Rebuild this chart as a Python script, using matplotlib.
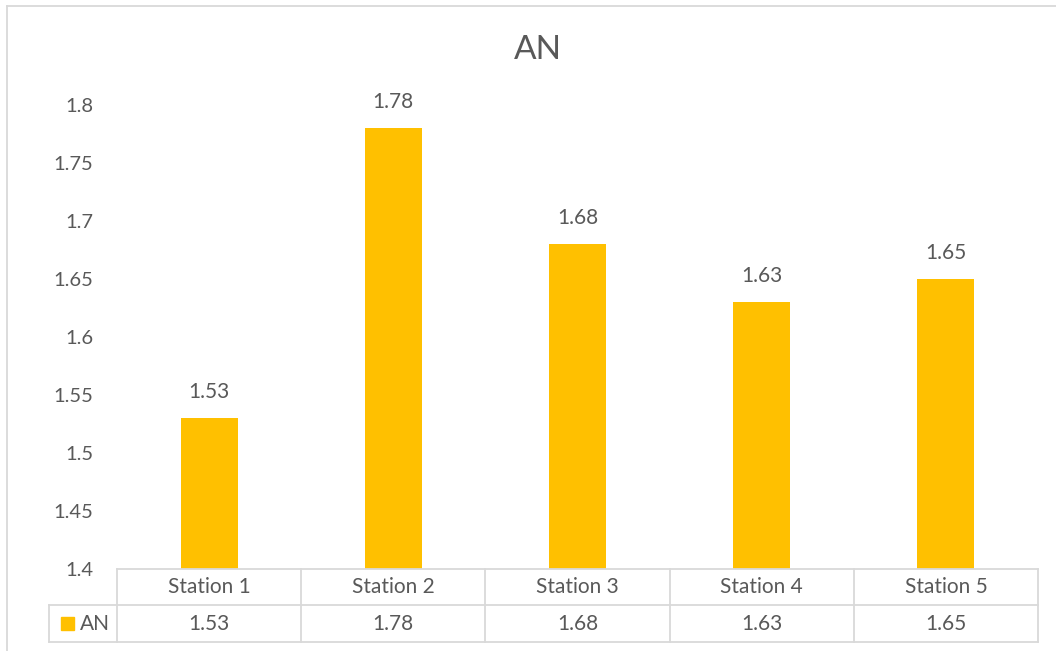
import matplotlib
matplotlib.use("Agg")
import matplotlib.pyplot as plt
from matplotlib.lines import Line2D
from matplotlib.patches import Rectangle
import numpy as np

stations = ["Station 1", "Station 2", "Station 3", "Station 4", "Station 5"]
an_values = [1.53, 1.78, 1.68, 1.63, 1.65]
series_name = "AN"
y_ticks = [1.4, 1.45, 1.5, 1.55, 1.6, 1.65, 1.7, 1.75, 1.8]

W, H = 1056, 651
BAR = "#FFC000"
TXT = "#595959"
GRID = "#D9D9D9"
FONT = ["Lato", "Open Sans", "DejaVu Sans"]
FS = 15

plt.rcParams["font.family"] = FONT

fig = plt.figure(figsize=(W / 100, H / 100), dpi=100)


def fx(px):
    return px / W


def fy(py):
    return 1 - py / H


# plot area in pixel coordinates
left, right, top, bottom = 117, 1038, 105, 569
ax = fig.add_axes([fx(left), fy(bottom), fx(right - left), fy(top) - fy(bottom)])

x = np.arange(len(stations))
ax.bar(x, an_values, width=0.31, color=BAR, bottom=0)
ax.set_xlim(-0.5, len(stations) - 0.5)
ax.set_ylim(y_ticks[0], y_ticks[-1])
ax.set_yticks(y_ticks)
ax.set_yticklabels([f"{t:g}" for t in y_ticks])
ax.tick_params(axis="y", length=0, pad=17, labelsize=14.5, labelcolor=TXT)
ax.set_xticks([])
for s in ax.spines.values():
    s.set_visible(False)

for xi, v in zip(x, an_values):
    ax.annotate(f"{v:.2f}", (xi, v), xytext=(0, 19), textcoords="offset points",
                ha="center", va="center", fontsize=FS, color=TXT)

fig.text(fx((left + right) / 2 - 40), fy(50), series_name, ha="center", va="center",
         fontsize=24, color=TXT)

# data table below the plot area
row1_top, row1_bot, row2_bot = 569, 605, 642
legend_left = 49


def hline(y, x0, x1):
    fig.add_artist(Line2D([fx(x0), fx(x1)], [fy(y), fy(y)], color=GRID, lw=1.3))


def vline(xp, y0, y1):
    fig.add_artist(Line2D([fx(xp), fx(xp)], [fy(y0), fy(y1)], color=GRID, lw=1.3))


# column edges from the category positions
fig.canvas.draw()
to_px = lambda xd: ax.transData.transform((xd, y_ticks[0]))[0]
edges = [to_px(i - 0.5) for i in range(len(stations) + 1)]
centers = [to_px(i) for i in x]

hline(row1_top, edges[0], edges[-1])
hline(row1_bot, legend_left, edges[-1])
hline(row2_bot, legend_left, edges[-1])
vline(legend_left, row1_bot, row2_bot)
for e in edges:
    vline(e, row1_top, row2_bot)

for c, name, v in zip(centers, stations, an_values):
    fig.text(fx(c), fy((row1_top + row1_bot) / 2), name, ha="center", va="center",
             fontsize=FS, color=TXT)
    fig.text(fx(c), fy((row1_bot + row2_bot) / 2), f"{v:.2f}", ha="center", va="center",
             fontsize=FS, color=TXT)

# legend key in the table
fig.add_artist(Rectangle((fx(61), fy(630)), fx(13), fy(617) - fy(630), color=BAR,
                         transform=fig.transFigure))
fig.text(fx(80), fy(623.5), series_name, ha="left", va="center", fontsize=FS, color=TXT)

# chart frame
hline(6, 7, W)
vline(7, 6, H)

fig.savefig("out.png", dpi=100, facecolor="white")
